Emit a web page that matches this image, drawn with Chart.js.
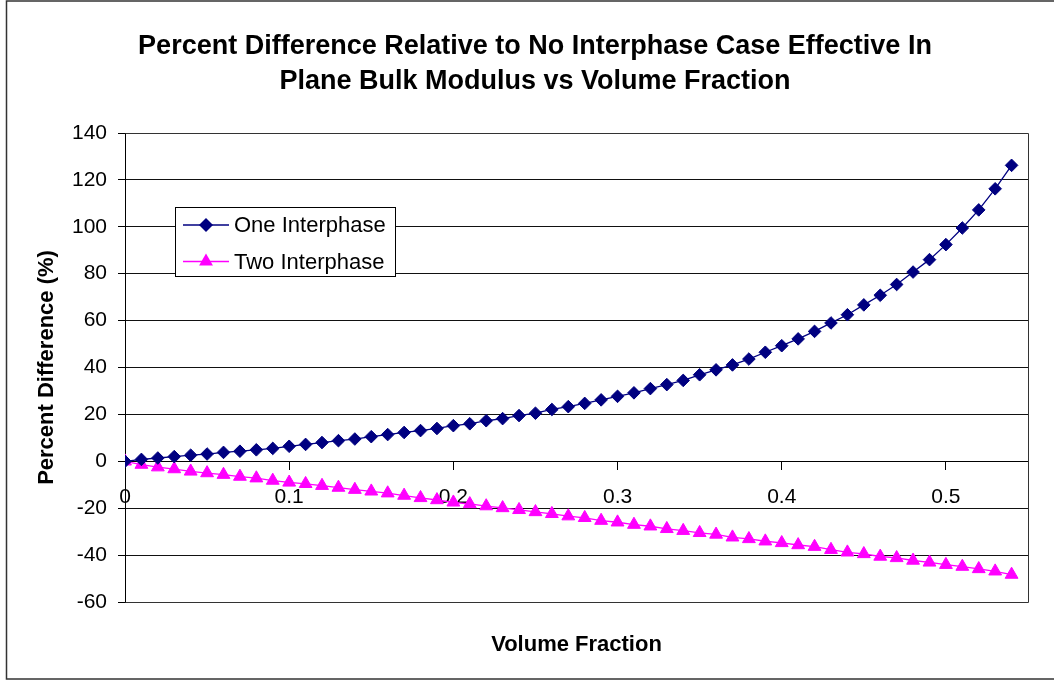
<!DOCTYPE html>
<html><head><meta charset="utf-8">
<script src="https://cdn.jsdelivr.net/npm/chart.js@4/dist/chart.umd.min.js"></script>
<style>html,body{margin:0;padding:0;background:#fff;} canvas{display:block;}</style>
</head><body>
<canvas id="c" width="1054" height="681"></canvas>
<script>
const volumeFraction = [0, 0.01, 0.02, 0.03, 0.04, 0.05, 0.06, 0.07, 0.08, 0.09,
  0.10, 0.11, 0.12, 0.13, 0.14, 0.15, 0.16, 0.17, 0.18, 0.19,
  0.20, 0.21, 0.22, 0.23, 0.24, 0.25, 0.26, 0.27, 0.28, 0.29,
  0.30, 0.31, 0.32, 0.33, 0.34, 0.35, 0.36, 0.37, 0.38, 0.39,
  0.40, 0.41, 0.42, 0.43, 0.44, 0.45, 0.46, 0.47, 0.48, 0.49,
  0.50, 0.51, 0.52, 0.53, 0.54];
const oneInterphase = [0, 0.8, 1.4, 2.0, 2.6, 3.1, 3.8, 4.3, 4.9, 5.5,
  6.4, 7.2, 8.0, 8.8, 9.5, 10.5, 11.4, 12.3, 13.1, 14.0,
  15.2, 16.0, 17.3, 18.2, 19.5, 20.5, 22.1, 23.3, 24.7, 26.2,
  27.7, 29.2, 31.0, 32.7, 34.5, 36.9, 39.0, 41.1, 43.6, 46.5,
  49.3, 52.2, 55.4, 59.0, 62.5, 66.7, 70.8, 75.4, 80.7, 86.0,
  92.4, 99.5, 107.2, 116.2, 126.2];
const twoInterphase = [0, -1.4, -2.5, -3.3, -4.3, -5.0, -5.7, -6.5, -7.2, -8.2,
  -9.0, -9.6, -10.4, -11.2, -12.1, -12.8, -13.6, -14.6, -15.6, -16.5,
  -17.5, -18.2, -19.1, -19.9, -20.7, -21.6, -22.4, -23.4, -24.1, -25.3,
  -26.0, -27.0, -27.7, -28.8, -29.6, -30.5, -31.2, -32.4, -33.1, -34.1,
  -34.8, -35.7, -36.4, -37.7, -38.8, -39.5, -40.6, -41.2, -42.3, -43.1,
  -44.1, -44.9, -45.9, -46.9, -48.3];
const seriesNames = ['One Interphase', 'Two Interphase'];
const chartTitle = ['Percent Difference Relative to No Interphase Case Effective In', 'Plane Bulk Modulus vs Volume Fraction'];
const xAxisTitle = 'Volume Fraction';
const yAxisTitle = 'Percent Difference (%)';
const xTickValues = [0, 0.1, 0.2, 0.3, 0.4, 0.5];
const xTickLabels = ['0', '0.1', '0.2', '0.3', '0.4', '0.5'];
const yTickLabels = ['-60', '-40', '-20', '0', '20', '40', '60', '80', '100', '120', '140'];

const FONT = "'Liberation Sans', Arial, Helvetica, sans-serif";
Chart.defaults.font.family = FONT;
Chart.defaults.color = '#000';

const toPoints = ys => volumeFraction.map((x, i) => ({x: x, y: ys[i]}));

const bgPlugin = {
  id: 'bg',
  beforeDraw(chart) {
    const c = chart.ctx;
    c.save();
    c.fillStyle = '#fff';
    c.fillRect(0, 0, chart.width, chart.height);
    c.strokeStyle = '#333';
    c.lineWidth = 1.5;
    c.strokeRect(6.5, 1, chart.width + 20, 678);
    c.restore();
  }
};

const frameLegendPlugin = {
  id: 'frameLegend',
  afterDraw(chart) {
    const c = chart.ctx;
    const a = chart.chartArea;
    c.save();
    c.strokeStyle = '#333';
    c.lineWidth = 1;
    c.beginPath();
    c.moveTo(Math.round(a.left) + 0.5, Math.round(a.top) + 0.5);
    c.lineTo(Math.round(a.right) + 0.5, Math.round(a.top) + 0.5);
    c.lineTo(Math.round(a.right) + 0.5, Math.round(a.bottom) + 0.5);
    c.lineTo(Math.round(a.left) + 0.5, Math.round(a.bottom) + 0.5);
    c.stroke();
    // legend
    const bx = 175.5, by = 207.5, bw = 220, bh = 69;
    c.fillStyle = '#fff';
    c.fillRect(bx, by, bw, bh);
    c.strokeStyle = '#000';
    c.strokeRect(bx, by, bw, bh);
    const rows = [225, 261.5];
    chart.data.datasets.forEach((ds, i) => {
      const y = rows[i];
      c.strokeStyle = ds.borderColor;
      c.lineWidth = 1.3;
      c.beginPath();
      c.moveTo(183, y);
      c.lineTo(229, y);
      c.stroke();
      c.fillStyle = ds.pointBackgroundColor;
      c.beginPath();
      if (i === 0) {
        const r = 7;
        c.moveTo(206 - r, y); c.lineTo(206, y - r); c.lineTo(206 + r, y); c.lineTo(206, y + r);
      } else {
        const r = 8;
        c.moveTo(206, y - r); c.lineTo(206 + r * 0.866, y + r * 0.5); c.lineTo(206 - r * 0.866, y + r * 0.5);
      }
      c.closePath();
      c.fill();
      c.fillStyle = '#000';
      c.font = "22px " + FONT;
      c.textBaseline = 'middle';
      c.textAlign = 'left';
      c.fillText(ds.label, 234, y + 1);
    });
    c.restore();
  }
};

new Chart(document.getElementById('c'), {
  type: 'scatter',
  data: {
    datasets: [
      {
        label: seriesNames[0],
        data: toPoints(oneInterphase),
        showLine: true,
        borderColor: '#000080',
        backgroundColor: '#000080',
        pointBackgroundColor: '#000080',
        pointBorderColor: '#000080',
        borderWidth: 1.3,
        pointStyle: 'rectRot',
        pointRadius: 6.3,
        pointBorderWidth: 1,
        xAxisID: 'x',
        yAxisID: 'y'
      },
      {
        label: seriesNames[1],
        data: toPoints(twoInterphase),
        showLine: true,
        borderColor: '#FF00FF',
        backgroundColor: '#FF00FF',
        pointBackgroundColor: '#FF00FF',
        pointBorderColor: '#FF00FF',
        borderWidth: 1.3,
        pointStyle: 'triangle',
        pointRadius: 7.4,
        pointBorderWidth: 1,
        xAxisID: 'x',
        yAxisID: 'y'
      }
    ]
  },
  options: {
    responsive: false,
    animation: false,
    devicePixelRatio: 1,
    layout: {padding: {left: 42, right: 26, top: 0, bottom: 0}},
    plugins: {
      legend: {display: false},
      tooltip: {enabled: false},
      title: {
        display: true,
        text: chartTitle,
        color: '#000',
        font: {size: 27, weight: 'bold', family: FONT, lineHeight: 1.3},
        padding: {top: 28.5, bottom: 34.3}
      }
    },
    scales: {
      x: {
        type: 'linear',
        position: 'bottom',
        min: 0,
        max: 0.55,
        ticks: {display: false},
        grid: {display: false, drawTicks: false},
        border: {display: false},
        title: {
          display: true,
          text: xAxisTitle,
          color: '#000',
          font: {size: 22, weight: 'bold', family: FONT, lineHeight: 1.2},
          padding: {top: 29.8, bottom: 22.8}
        }
      },
      x2: {
        type: 'linear',
        position: {y: 0},
        min: 0,
        max: 0.55,
        ticks: {
          stepSize: 0.1,
          includeBounds: false,
          padding: 15.7,
          color: '#000',
          font: {size: 21, family: FONT},
          maxRotation: 0,
          callback: (v) => {
            const k = xTickValues.findIndex(t => Math.abs(t - v) < 1e-6);
            return k >= 0 ? xTickLabels[k] : '';
          }
        },
        grid: {display: true, drawOnChartArea: false, drawTicks: true, tickLength: 8, color: '#000', tickColor: '#000'},
        border: {display: true, color: '#000', width: 1}
      },
      y: {
        type: 'linear',
        position: 'left',
        min: -60,
        max: 140,
        afterFit: (s) => { s.width = 83; },
        ticks: {
          stepSize: 20,
          padding: 11,
          color: '#000',
          font: {size: 21, family: FONT},
          callback: (v) => {
            const k = yTickLabels.indexOf(String(Math.round(v)));
            return k >= 0 ? yTickLabels[k] : '';
          }
        },
        grid: {color: '#111', lineWidth: 1, tickLength: 7, tickColor: '#000', drawTicks: true},
        border: {display: true, color: '#000', width: 1},
        title: {
          display: true,
          text: yAxisTitle,
          color: '#000',
          font: {size: 22, weight: 'bold', family: FONT, lineHeight: 1.2},
          padding: {top: -8.2, bottom: 0}
        }
      }
    }
  },
  plugins: [bgPlugin, frameLegendPlugin]
});
</script>
</body></html>
